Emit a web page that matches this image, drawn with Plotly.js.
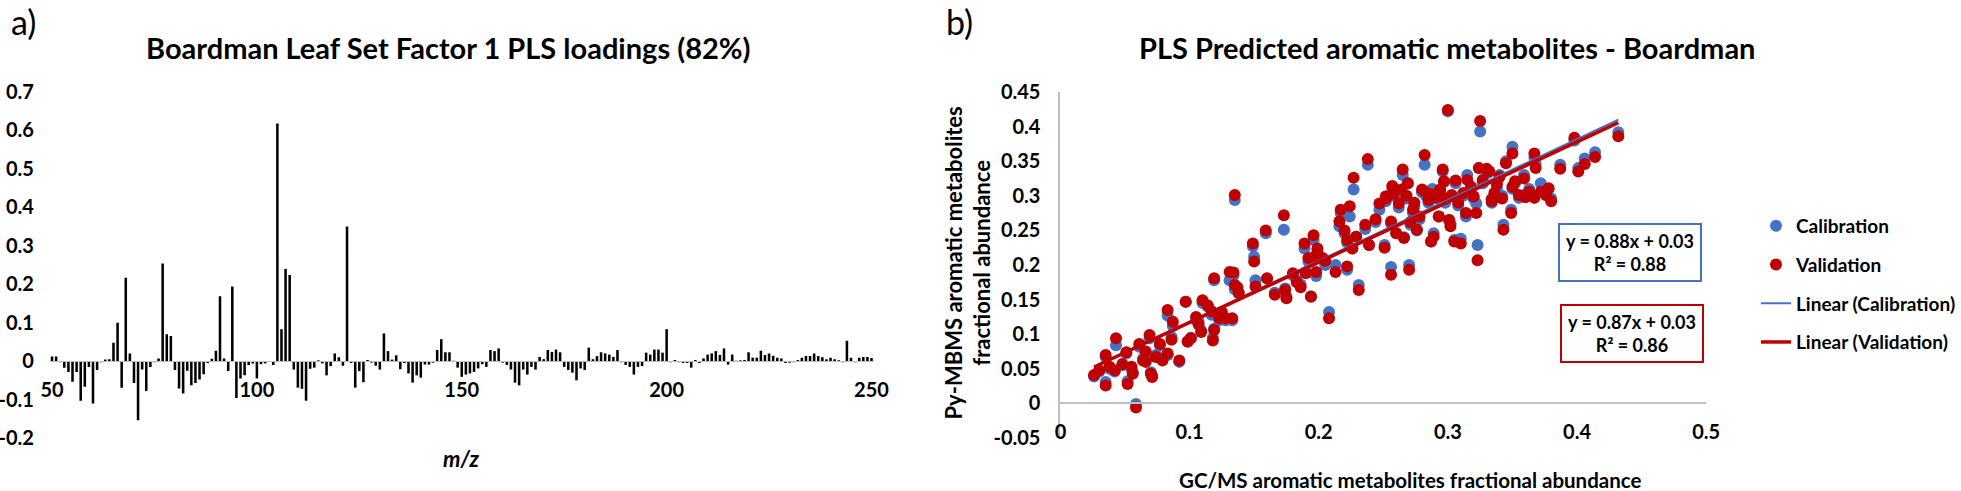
<!DOCTYPE html>
<html><head><meta charset="utf-8">
<script src="https://cdn.plot.ly/plotly-3.0.1.min.js"></script>
<style>html,body{margin:0;padding:0;background:#fff;}#chart{width:1961px;height:491px;}</style>
</head><body><div id="chart"></div>
<script>
// ---------- Panel a: PLS loadings ----------
const mz = [
50,51,52,53,54,55,56,57,58,59,60,61,62,63,64,65,66,67,68,69,
70,71,72,73,74,75,76,77,78,79,80,81,82,83,84,85,86,87,88,89,
90,91,92,93,94,95,96,97,98,99,100,101,102,103,104,105,106,107,108,109,
110,111,112,113,114,115,116,117,118,119,120,121,122,123,124,125,126,127,128,129,
130,131,132,133,134,135,136,137,138,139,140,141,142,143,144,145,146,147,148,149,
150,151,152,153,154,155,156,157,158,159,160,161,162,163,164,165,166,167,168,169,
170,171,172,173,174,175,176,177,178,179,180,181,182,183,184,185,186,187,188,189,
190,191,192,193,194,195,196,197,198,199,200,201,202,203,204,205,206,207,208,209,
210,211,212,213,214,215,216,217,218,219,220,221,222,223,224,225,226,227,228,229,
230,231,232,233,234,235,236,237,238,239,240,241,242,243,244,245,246,247,248,249,250];
const loadings = [
0.012,0.012,-0.003,-0.017,-0.028,-0.054,-0.028,-0.103,-0.067,-0.015,
-0.11,-0.023,-0.003,0.004,0.005,0.048,0.10,-0.069,0.217,0.02,
-0.057,-0.154,-0.022,-0.078,-0.015,-0.003,0.007,0.254,0.07,0.065,
-0.023,-0.071,-0.084,-0.025,-0.063,-0.057,-0.048,-0.034,-0.005,0.006,
0.027,0.169,0.007,-0.026,0.194,-0.096,-0.045,-0.037,-0.01,-0.006,
-0.045,-0.008,-0.006,-0.002,-0.01,0.618,0.083,0.24,0.224,-0.022,
-0.069,-0.072,-0.103,-0.02,-0.017,0.002,-0.006,-0.037,-0.013,0.02,
0.01,-0.012,0.35,-0.005,-0.069,-0.026,-0.055,0.003,-0.004,-0.012,
-0.022,0.072,0.026,0.004,0.015,-0.021,-0.005,-0.032,-0.056,-0.037,
-0.043,-0.009,-0.009,-0.004,0.029,0.057,0.023,0.023,0.001,-0.017,
-0.041,-0.035,-0.032,-0.028,-0.019,-0.008,-0.015,0.029,0.026,0.033,
-0.004,-0.01,-0.022,-0.056,-0.063,-0.022,-0.035,-0.015,-0.022,0.011,
0.005,0.029,0.024,0.03,0.023,-0.015,-0.023,-0.03,-0.05,-0.019,
-0.023,0.035,0.005,0.013,0.023,0.02,0.017,0.011,0.029,-0.003,
-0.01,-0.015,-0.035,-0.015,-0.013,0.022,0.017,0.03,0.03,0.022,
0.083,-0.003,0.003,-0.003,-0.005,-0.005,-0.017,0.003,-0.005,0.007,
0.017,0.02,0.026,0.016,0.033,-0.009,0.017,0.001,0.002,0.003,
0.023,0.009,0.009,0.027,0.016,0.02,0.014,0.009,0.007,-0.005,
-0.004,-0.003,0.003,0.009,0.013,0.013,0.02,0.013,0.01,0.005,
0.009,0.005,0.002,-0.003,0.053,0.009,-0.003,0.009,0.011,0.011,
0.008];
const leftXTickVals = [50,100,150,200,250];
const leftYTickVals = [-0.2,-0.1,0,0.1,0.2,0.3,0.4,0.5,0.6,0.7];
const leftYTickText = ['-0.2','-0.1','0','0.1','0.2','0.3','0.4','0.5','0.6','0.7'];

// ---------- Panel b: predicted vs measured ----------
const gcms = [
0.026,0.030,0.035,0.035,0.038,0.043,0.042,0.051,0.052,0.055,
0.056,0.0585,0.061,0.064,0.066,0.069,0.070,0.071,0.074,0.077,
0.079,0.083,0.083,0.087,0.086,0.092,0.097,0.0985,0.101,0.105,
0.109,0.110,0.114,0.118,0.119,0.119,0.117,0.123,0.128,0.131,
0.133,0.134,0.135,0.137,0.138,0.135,0.149,0.150,0.151,0.159,
0.160,0.166,0.173,0.174,0.175,0.180,0.186,0.189,0.190,0.194,
0.196,0.197,0.198,0.199,0.203,0.208,0.213,0.216,0.217,0.222,
0.222,0.224,0.226,0.227,0.229,0.231,0.238,0.239,0.247,0.251,
0.252,0.256,0.256,0.257,0.260,0.264,0.265,0.266,0.269,0.270,
0.273,0.276,0.280,0.282,0.285,0.287,0.289,0.293,0.296,0.297,
0.300,0.301,0.302,0.303,0.305,0.310,0.314,0.315,0.323,0.322,
0.325,0.324,0.332,0.334,0.336,0.330,0.334,0.340,0.345,0.343,
0.349,0.350,0.350,0.352,0.359,0.360,0.363,0.367,0.367,0.368,
0.372,0.376,0.378,0.380,0.387,0.398,0.401,0.406,0.414,0.432,
0.252,0.258,0.262,0.268,0.271,0.274,0.278,0.283,0.288,0.291,
0.294,0.298,0.306,0.308,0.312,0.318,0.320,0.327,0.338,0.342,
0.355,0.244,0.236,0.220,0.205,0.192,0.183,0.125,0.107,0.066,0.048];
const calPred = [
0.039,0.046,0.067,0.031,0.050,0.084,0.046,0.072,0.032,0.050,
0.045,-0.001,0.082,0.065,0.062,0.094,0.045,0.040,0.070,0.084,
0.065,0.070,0.127,0.112,0.096,0.060,0.147,0.090,0.095,0.120,
0.105,0.145,0.140,0.095,0.178,0.108,0.128,0.120,0.120,0.178,
0.120,0.185,0.165,0.164,0.159,0.294,0.227,0.212,0.178,0.246,
0.180,0.160,0.251,0.166,0.155,0.185,0.172,0.224,0.190,0.155,
0.236,0.210,0.184,0.220,0.208,0.132,0.200,0.256,0.275,0.193,
0.232,0.270,0.224,0.309,0.241,0.171,0.345,0.229,0.280,0.229,
0.299,0.197,0.260,0.310,0.246,0.305,0.330,0.240,0.318,0.200,
0.275,0.250,0.305,0.345,0.290,0.234,0.246,0.270,0.335,0.320,
0.422,0.265,0.260,0.300,0.236,0.238,0.270,0.330,0.229,0.289,
0.393,0.340,0.335,0.295,0.300,0.333,0.290,0.330,0.350,0.258,
0.280,0.371,0.310,0.318,0.330,0.302,0.310,0.300,0.355,0.346,
0.318,0.301,0.310,0.296,0.345,0.380,0.340,0.354,0.363,0.392,
0.292,0.300,0.283,0.296,0.258,0.285,0.266,0.300,0.310,0.296,
0.305,0.290,0.318,0.286,0.300,0.311,0.296,0.318,0.312,0.300,
0.297,0.262,0.252,0.246,0.200,0.205,0.178,0.128,0.118,0.072,0.055];
const valPred = [
0.041,0.048,0.070,0.026,0.053,0.094,0.048,0.074,0.028,0.053,
0.043,-0.006,0.086,0.062,0.060,0.099,0.043,0.038,0.067,0.086,
0.062,0.072,0.135,0.118,0.092,0.062,0.147,0.089,0.094,0.125,
0.103,0.149,0.142,0.091,0.181,0.106,0.133,0.123,0.123,0.190,
0.123,0.189,0.171,0.168,0.160,0.301,0.231,0.205,0.169,0.250,
0.181,0.157,0.272,0.164,0.152,0.188,0.168,0.231,0.188,0.154,
0.243,0.212,0.190,0.224,0.210,0.123,0.190,0.263,0.280,0.198,
0.236,0.285,0.224,0.326,0.241,0.164,0.353,0.229,0.289,0.225,
0.299,0.186,0.263,0.314,0.246,0.309,0.338,0.239,0.318,0.193,
0.280,0.251,0.309,0.359,0.294,0.234,0.241,0.270,0.338,0.321,
0.424,0.265,0.256,0.301,0.234,0.231,0.275,0.323,0.207,0.275,
0.408,0.340,0.335,0.292,0.304,0.339,0.295,0.327,0.347,0.251,
0.275,0.361,0.313,0.321,0.325,0.298,0.306,0.297,0.361,0.340,
0.306,0.301,0.311,0.292,0.339,0.384,0.335,0.346,0.356,0.386,
0.296,0.303,0.289,0.300,0.262,0.290,0.270,0.305,0.302,0.298,
0.309,0.296,0.322,0.290,0.304,0.313,0.299,0.323,0.317,0.296,
0.301,0.266,0.258,0.250,0.206,0.210,0.175,0.132,0.114,0.075,0.057];
const calSlope = 0.88, calIntercept = 0.03;
const valSlope = 0.87, valIntercept = 0.03;
const rightXTickVals = [0,0.1,0.2,0.3,0.4,0.5];
const rightXTickText = ['0','0.1','0.2','0.3','0.4','0.5'];
const rightYTickVals = [-0.05,0,0.05,0.1,0.15,0.2,0.25,0.3,0.35,0.4,0.45];
const rightYTickText = ['-0.05','0','0.05','0.1','0.15','0.2','0.25','0.3','0.35','0.4','0.45'];

// ---------- build ----------
const W = 1961, H = 491, MT = 92, MB = 53;
const PH = H - MT - MB;
const fx = px => px / W;
const fy = py => (H - MB - py) / PH;
const FONT = 'Lato, "Open Sans", sans-serif';
const BLUE = '#4472c4', RED = '#c00000', AXIS = '#bfbfbf';

const xMin = Math.min(...gcms), xMax = Math.max(...gcms);

const traces = [
  {type:'bar', x: mz, y: loadings, xaxis:'x', yaxis:'y', marker:{color:'#000'}, showlegend:false, hoverinfo:'x+y'},
  {type:'scatter', mode:'markers', name:'Calibration', legendgroup:'g1', x:gcms, y:calPred, xaxis:'x2', yaxis:'y2',
   marker:{color:BLUE, size:12}},
  {type:'scatter', mode:'markers', name:'Validation', legendgroup:'g2', x:gcms, y:valPred, xaxis:'x2', yaxis:'y2',
   marker:{color:RED, size:12}},
  {type:'scatter', mode:'lines', name:'Linear (Calibration)', legendgroup:'g3', x:[xMin,xMax],
   y:[calSlope*xMin+calIntercept, calSlope*xMax+calIntercept], xaxis:'x2', yaxis:'y2', line:{color:BLUE, width:2}},
  {type:'scatter', mode:'lines', name:'Linear (Validation)', legendgroup:'g4', x:[xMin,xMax],
   y:[valSlope*xMin+valIntercept, valSlope*xMax+valIntercept], xaxis:'x2', yaxis:'y2', line:{color:RED, width:3.5}}
];

const tickFont = {family:FONT, size:20, color:'#000', weight:'bold'};
const noTick = 'rgba(0,0,0,0)';

const layout = {
  width: W, height: H,
  margin: {l:0, r:0, t:MT, b:MB, pad:0},
  paper_bgcolor:'#fff', plot_bgcolor:'rgba(0,0,0,0)',
  bargap: 0.38,
  showlegend: true,
  legend: {x: fx(1757), y: fy(207), xanchor:'left', yanchor:'top', traceorder:'grouped', tracegroupgap: 11,
           font:{family:FONT, size:19, color:'#000', weight:'bold'}, bgcolor:'rgba(0,0,0,0)'},
  xaxis: {domain:[fx(50), fx(874)], range:[49.5, 250.5], anchor:'free', position:(0-(-0.2))/0.9,
          showline:true, linecolor:AXIS, linewidth:1, showgrid:false, zeroline:false,
          tickmode:'array', tickvals:leftXTickVals, ticks:'outside', ticklen:11, tickcolor:noTick,
          tickfont:tickFont, automargin:false, fixedrange:true},
  yaxis: {domain:[0,1], range:[-0.2,0.7], anchor:'x', showline:false, showgrid:false, zeroline:false,
          tickmode:'array', tickvals:leftYTickVals, ticktext:leftYTickText, ticks:'outside', ticklen:11, tickcolor:noTick,
          tickfont:tickFont, automargin:false, fixedrange:true},
  xaxis2: {domain:[fx(1061), fx(1707)], range:[0,0.5], anchor:'free', position:(0-(-0.05))/0.5,
          showline:true, linecolor:AXIS, linewidth:2, showgrid:false, zeroline:false,
          tickmode:'array', tickvals:rightXTickVals, ticktext:rightXTickText, ticks:'outside', ticklen:11, tickcolor:noTick,
          tickfont:tickFont, automargin:false, fixedrange:true},
  yaxis2: {domain:[0,1], range:[-0.05,0.45], anchor:'x2', showline:true, linecolor:AXIS, linewidth:2, showgrid:false, zeroline:false,
          tickmode:'array', tickvals:rightYTickVals, ticktext:rightYTickText, ticks:'outside', ticklen:14, tickcolor:noTick,
          tickfont:tickFont, automargin:false, fixedrange:true},
  annotations: [
    {text:'a)', x:fx(24), y:fy(22), xref:'paper', yref:'paper', showarrow:false, xanchor:'center', yanchor:'middle',
     font:{family:FONT, size:34, color:'#000'}},
    {text:'b)', x:fx(960), y:fy(22), xref:'paper', yref:'paper', showarrow:false, xanchor:'center', yanchor:'middle',
     font:{family:FONT, size:34, color:'#000'}},
    {text:'Boardman Leaf Set Factor 1 PLS loadings (82%)', x:fx(449), y:fy(47), xref:'paper', yref:'paper', showarrow:false,
     xanchor:'center', yanchor:'middle', font:{family:FONT, size:29, color:'#000', weight:'bold'}},
    {text:'PLS Predicted aromatic metabolites - Boardman', x:fx(1448), y:fy(47), xref:'paper', yref:'paper', showarrow:false,
     xanchor:'center', yanchor:'middle', font:{family:FONT, size:29, color:'#000', weight:'bold'}},
    {text:'<i>m/z</i>', x:fx(462), y:fy(458), xref:'paper', yref:'paper', showarrow:false, xanchor:'center', yanchor:'middle',
     font:{family:FONT, size:22, color:'#000', weight:'bold'}},
    {text:'GC/MS aromatic metabolites fractional abundance', x:fx(1411), y:fy(480), xref:'paper', yref:'paper', showarrow:false,
     xanchor:'center', yanchor:'middle', font:{family:FONT, size:20.5, color:'#000', weight:'bold'}},
    {text:'Py-MBMS aromatic metabolites<br>fractional abundance', x:fx(968), y:fy(263), xref:'paper', yref:'paper', showarrow:false,
     xanchor:'center', yanchor:'middle', textangle:-90, font:{family:FONT, size:22, color:'#000', weight:'bold'}},
    {text:'y = 0.88x + 0.03<br>R² = 0.88', x:fx(1631), y:fy(252), xref:'paper', yref:'paper', showarrow:false,
     xanchor:'center', yanchor:'middle', bordercolor:BLUE, borderwidth:2, borderpad:3, width:134, height:49, bgcolor:'#fff',
     font:{family:FONT, size:18, color:'#000', weight:'bold'}},
    {text:'y = 0.87x + 0.03<br>R² = 0.86', x:fx(1633), y:fy(333), xref:'paper', yref:'paper', showarrow:false,
     xanchor:'center', yanchor:'middle', bordercolor:RED, borderwidth:2, borderpad:3, width:134, height:49, bgcolor:'#fff',
     font:{family:FONT, size:18, color:'#000', weight:'bold'}}
  ]
};

Plotly.newPlot('chart', traces, layout, {staticPlot:true, displayModeBar:false});
</script>
</body></html>
